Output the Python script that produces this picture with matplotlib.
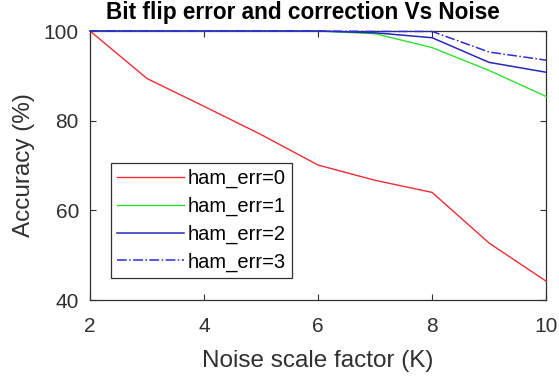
import matplotlib
matplotlib.use('Agg')
import matplotlib.pyplot as plt

plt.rcParams['font.family'] = ['Liberation Sans', 'DejaVu Sans']

# noise scale factor K
noise_k = [2, 3, 4, 5, 6, 7, 8, 9, 10]

# accuracy (%) for each hamming error tolerance
acc_ham0 = [100, 89.4, 83.2, 76.9, 70.1, 66.7, 64.0, 52.7, 44.2]
acc_ham1 = [100, 100, 100, 100, 100, 99.4, 96.3, 91.2, 85.4]
acc_ham2 = [100, 100, 100, 100, 100, 99.6, 98.5, 93.0, 90.8]
acc_ham3 = [100, 100, 100, 100, 100, 99.9, 99.9, 95.3, 93.5]

x_ticks = [2, 4, 6, 8, 10]
y_ticks = [40, 60, 80, 100]


def plot_accuracy():
    fig = plt.figure(figsize=(5.59, 3.79), dpi=100)
    ax = fig.add_axes([0.161, 0.2084, 0.816, 0.7098])

    ax.plot(noise_k, acc_ham0, color='#f02c34', lw=1.0, label='ham_err=0',
            clip_on=False, zorder=3)
    ax.plot(noise_k, acc_ham1, color='#30e030', lw=1.0, label='ham_err=1',
            clip_on=False, zorder=3)
    ax.plot(noise_k, acc_ham2, color='#2828b8', lw=1.1, label='ham_err=2',
            clip_on=False, zorder=3)
    ax.plot(noise_k, acc_ham3, color='#2c2cd8', lw=1.1, ls='-.', label='ham_err=3',
            clip_on=False, zorder=3)

    ax.set_xlim(2, 10)
    ax.set_ylim(40, 100)
    ax.set_xticks(x_ticks)
    ax.set_yticks(y_ticks)
    ax.tick_params(direction='in', length=4, labelsize=15, colors='#303030',
                   top=True, right=True)
    ax.tick_params(axis='x', pad=12)
    ax.tick_params(axis='y', pad=8)
    for s in ax.spines.values():
        s.set_color('#303030')
        s.set_linewidth(0.9)
        s.set_zorder(2)

    ax.set_title('Bit flip error and correction Vs Noise', fontsize=16.3,
                 fontweight='bold', pad=8.5, x=0.466)
    ax.set_xlabel('Noise scale factor (K)', fontsize=17.5, color='#303030',
                  labelpad=10)
    ax.set_ylabel('Accuracy (%)', fontsize=17.5, color='#303030', labelpad=6)

    leg = ax.legend(loc='lower left', bbox_to_anchor=(0.046, 0.082),
                    fontsize=14.5, fancybox=False, framealpha=1,
                    edgecolor='#303030', handlelength=3.33, borderpad=0.32,
                    labelspacing=0.42, handletextpad=0.15, borderaxespad=0)
    leg.get_frame().set_linewidth(0.9)

    fig.savefig('out.png', dpi=100)


if __name__ == '__main__':
    plot_accuracy()
